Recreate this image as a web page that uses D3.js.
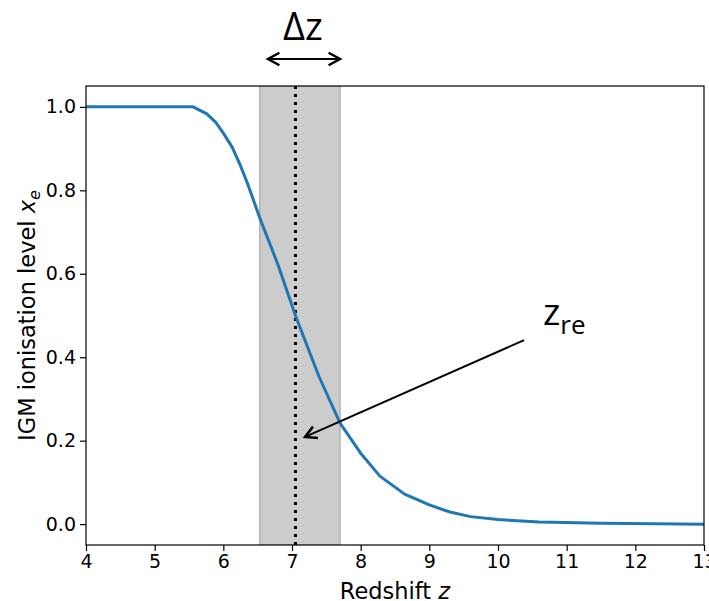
<!DOCTYPE html>
<html><head><meta charset="utf-8">
<script src="https://cdn.jsdelivr.net/npm/d3@7"></script>
<style>body{margin:0;background:#fff}svg{display:block}</style>
</head><body><svg id="c" width="709" height="601"></svg>
<script>
const redshift = [4.0, 5.0, 5.56, 5.76, 5.89, 6.0, 6.13, 6.24, 6.36, 6.53, 6.8, 7.05, 7.39, 7.7, 8.0, 8.28, 8.64, 9.0, 9.3, 9.6, 10.0, 10.6, 11.5, 12.3, 13.0];
const xe       = [1.0, 1.0, 1.0, 0.983, 0.963, 0.937, 0.903, 0.863, 0.813, 0.734, 0.62, 0.50, 0.355, 0.242, 0.17, 0.115, 0.072, 0.046, 0.029, 0.018, 0.011, 0.005, 0.002, 0.001, 0.0];
const xTicks = [4,5,6,7,8,9,10,11,12,13];
const yTicks = [0.0,0.2,0.4,0.6,0.8,1.0];
const zRe = 7.05;
const deltaBand = [6.53, 7.70];
const arrowFrom = [10.38, 0.441];
const arrowTo = [7.19, 0.209];

const svg = d3.select("#c");
const m = {l:86, r:704, t:86, b:545};
const x = d3.scaleLinear().domain([4,13]).range([m.l,m.r]);
const y = d3.scaleLinear().domain([-0.05,1.05]).range([m.b,m.t]);
const font = "DejaVu Sans, sans-serif";

svg.append("defs").append("clipPath").attr("id","clip").append("rect")
  .attr("x",m.l).attr("y",m.t).attr("width",m.r-m.l).attr("height",m.b-m.t);

const g = svg.append("g").attr("clip-path","url(#clip)");
g.append("rect").attr("x",x(deltaBand[0])).attr("width",x(deltaBand[1])-x(deltaBand[0]))
  .attr("y",m.t).attr("height",m.b-m.t).attr("fill","#cccccc").attr("stroke","#b5b5b5").attr("stroke-width",1.5);
g.append("line").attr("x1",x(zRe)).attr("x2",x(zRe)).attr("y1",m.t).attr("y2",m.b)
  .attr("stroke","#000").attr("stroke-width",3).attr("stroke-dasharray","3,5");
g.append("path").datum(redshift.map((z,i)=>[z,xe[i]]))
  .attr("d",d3.line().x(d=>x(d[0])).y(d=>y(d[1])))
  .attr("fill","none").attr("stroke","#1f77b4").attr("stroke-width",3).attr("stroke-linejoin","round");

// axes
const xa = svg.append("g").attr("transform",`translate(0,${m.b})`)
  .call(d3.axisBottom(x).tickValues(xTicks).tickFormat(d3.format("d")).tickSize(6).tickPadding(4));
const ya = svg.append("g").attr("transform",`translate(${m.l},0)`)
  .call(d3.axisLeft(y).tickValues(yTicks).tickFormat(d3.format(".1f")).tickSize(6).tickPadding(4));
[xa,ya].forEach(a=>{a.attr("font-size",19).attr("font-family",font);
  a.selectAll("text").attr("fill","#000");
  a.selectAll("line").attr("stroke","#000").attr("stroke-width",1.2);
  a.select(".domain").remove();});
svg.append("rect").attr("x",m.l).attr("y",m.t).attr("width",m.r-m.l).attr("height",m.b-m.t)
  .attr("fill","none").attr("stroke","#000").attr("stroke-width",1.2);

// labels
const xl = svg.append("text").attr("x",(m.l+m.r)/2).attr("y",599).attr("text-anchor","middle")
  .attr("font-family",font).attr("font-size",22.5);
xl.append("tspan").text("Redshift ");
xl.append("tspan").attr("font-style","italic").text("z");
const yl = svg.append("text").attr("transform",`translate(35,${(m.t+m.b)/2}) rotate(-90)`).attr("text-anchor","middle")
  .attr("font-family",font).attr("font-size",22.5);
yl.append("tspan").text("IGM ionisation level ");
yl.append("tspan").attr("font-style","italic").text("x");
yl.append("tspan").attr("font-style","italic").attr("font-size",16).attr("dy",5).text("e");

// annotations
const afont = "Open Sans, sans-serif";
svg.append("text").attr("x",303).attr("y",40).attr("text-anchor","middle").attr("font-family",afont).attr("font-size",38).text("Δz");
function arrowHead(px,py,ang){
  const L=13, a=0.5;
  return `M${px+L*Math.cos(ang+a)},${py+L*Math.sin(ang+a)}L${px},${py}L${px+L*Math.cos(ang-a)},${py+L*Math.sin(ang-a)}`;
}
svg.append("line").attr("x1",268).attr("x2",340).attr("y1",59).attr("y2",59).attr("stroke","#000").attr("stroke-width",2);
svg.append("path").attr("d",arrowHead(268,59,0)+arrowHead(340,59,Math.PI)).attr("fill","none").attr("stroke","#000").attr("stroke-width",2.5);

const ax1=x(arrowFrom[0]), ay1=y(arrowFrom[1]), ax2=x(arrowTo[0]), ay2=y(arrowTo[1]);
svg.append("line").attr("x1",ax1).attr("y1",ay1).attr("x2",ax2).attr("y2",ay2).attr("stroke","#000").attr("stroke-width",2);
const ang=Math.atan2(ay1-ay2,ax1-ax2);
svg.append("path").attr("d",arrowHead(ax2,ay2,ang)).attr("fill","none").attr("stroke","#000").attr("stroke-width",2.5);
const zt = svg.append("text").attr("x",543).attr("y",325).attr("font-family",afont).attr("font-size",37);
zt.append("tspan").text("z");
zt.append("tspan").attr("font-size",26).attr("dy",9).text("re");
</script></body></html>
